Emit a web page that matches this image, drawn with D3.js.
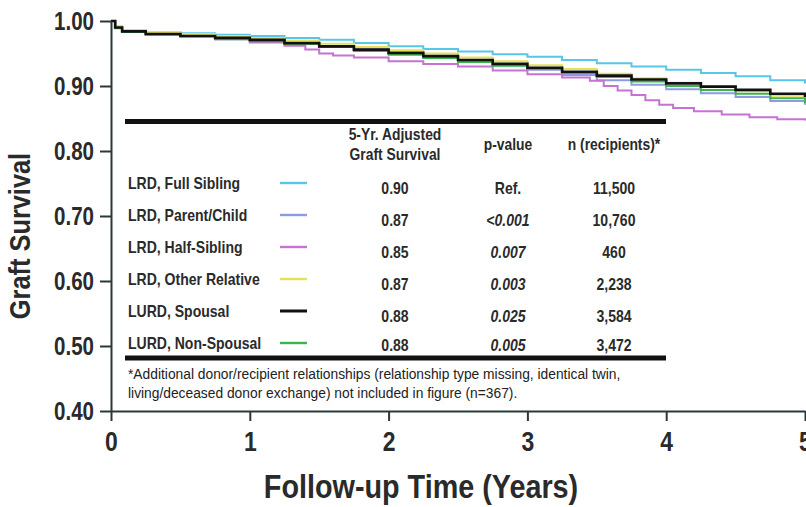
<!DOCTYPE html>
<html>
<head>
<meta charset="utf-8">
<script src="https://cdn.jsdelivr.net/npm/d3@7"></script>
<style>
  body { margin: 0; background: #fff; }
  svg { display: block; }
  text { font-family: 'Liberation Sans Narrow', 'Arial Narrow', 'Liberation Sans', sans-serif; fill: #2a2a2a; }
</style>
</head>
<body>
<svg id="chart" width="806" height="507"></svg>
<script>
// survival curves, [years, survival]
var fullSibling = [[0, 1], [0.03, 0.992], [0.08, 0.986], [0.25, 0.983], [0.5, 0.981], [0.75, 0.979], [1, 0.977],
  [1.25, 0.974], [1.5, 0.971], [1.75, 0.966], [2, 0.961], [2.25, 0.957], [2.5, 0.953], [2.75, 0.949], [3, 0.945],
  [3.25, 0.940], [3.5, 0.935], [3.75, 0.930], [4, 0.925], [4.25, 0.920], [4.5, 0.915], [4.75, 0.909], [5, 0.904]];
var parentChild = [[0, 1], [0.03, 0.990], [0.08, 0.985], [0.25, 0.981], [0.5, 0.977], [0.75, 0.974], [1, 0.970],
  [1.25, 0.966], [1.5, 0.961], [1.75, 0.956], [2, 0.950], [2.25, 0.945], [2.5, 0.939], [2.75, 0.932], [3, 0.925],
  [3.25, 0.917], [3.5, 0.909], [3.75, 0.902], [4, 0.895], [4.25, 0.889], [4.5, 0.883], [4.75, 0.877], [5, 0.871]];
var halfSibling = [[0, 1], [0.03, 0.990], [0.08, 0.985], [0.25, 0.981], [0.5, 0.977], [0.75, 0.972], [1, 0.967],
  [1.25, 0.962], [1.4, 0.956], [1.5, 0.950], [1.6, 0.947], [1.75, 0.944], [2, 0.938], [2.25, 0.934], [2.5, 0.930],
  [2.75, 0.924], [3, 0.918], [3.25, 0.913], [3.45, 0.908], [3.55, 0.900], [3.65, 0.893], [3.75, 0.886],
  [3.85, 0.878], [3.95, 0.871], [4.05, 0.866], [4.2, 0.861], [4.4, 0.856], [4.6, 0.852], [4.8, 0.849], [5, 0.847]];
var otherRelative = [[0, 1], [0.03, 0.992], [0.08, 0.986], [0.25, 0.983], [0.5, 0.980], [0.75, 0.977], [1, 0.974],
  [1.25, 0.970], [1.5, 0.965], [1.75, 0.960], [2, 0.955], [2.25, 0.950], [2.5, 0.944], [2.75, 0.938], [3, 0.932],
  [3.25, 0.926], [3.5, 0.919], [3.75, 0.912], [4, 0.905], [4.25, 0.899], [4.5, 0.892], [4.75, 0.885], [5, 0.878]];
var spousal = [[0, 1], [0.03, 0.990], [0.08, 0.984], [0.25, 0.980], [0.5, 0.977], [0.75, 0.974], [1, 0.971],
  [1.25, 0.966], [1.5, 0.961], [1.75, 0.956], [2, 0.951], [2.25, 0.946], [2.5, 0.940], [2.75, 0.934], [3, 0.928],
  [3.25, 0.922], [3.5, 0.916], [3.75, 0.910], [4, 0.904], [4.25, 0.899], [4.5, 0.894], [4.75, 0.888], [5, 0.883]];
var nonSpousal = [[0, 1], [0.03, 0.989], [0.08, 0.983], [0.25, 0.979], [0.5, 0.976], [0.75, 0.972], [1, 0.969],
  [1.25, 0.965], [1.5, 0.960], [1.75, 0.954], [2, 0.948], [2.25, 0.943], [2.5, 0.937], [2.75, 0.931], [3, 0.926],
  [3.25, 0.920], [3.5, 0.914], [3.75, 0.907], [4, 0.900], [4.25, 0.894], [4.5, 0.888], [4.75, 0.881], [5, 0.874]];

// table
var groups = ['LRD, Full Sibling', 'LRD, Parent/Child', 'LRD, Half-Sibling', 'LRD, Other Relative', 'LURD, Spousal', 'LURD, Non-Spousal'];
var adjSurvival = ['0.90', '0.87', '0.85', '0.87', '0.88', '0.88'];
var pValues = ['Ref.', '<0.001', '0.007', '0.003', '0.025', '0.005'];
var recipients = ['11,500', '10,760', '460', '2,238', '3,584', '3,472'];
var curves = [fullSibling, parentChild, halfSibling, otherRelative, spousal, nonSpousal];

var xTicks = [0, 1, 2, 3, 4, 5];
var yTicks = [0.4, 0.5, 0.6, 0.7, 0.8, 0.9, 1.0];
var footnote = ['*Additional donor/recipient relationships (relationship type missing, identical twin,',
  'living/deceased donor exchange) not included in figure (n=367).'];

var svg = d3.select('#chart');

// no narrow font installed, so squeeze the glyphs
var narrow = function(sel, k) {
  sel.each(function() {
    var w = this.getComputedTextLength();
    d3.select(this).attr('textLength', w * k).attr('lengthAdjust', 'spacingAndGlyphs');
  });
};

var x = d3.scaleLinear().domain([0, 5]).range([111, 805]);
var y = d3.scaleLinear().domain([0.4, 1]).range([411, 21]);
var color = d3.scaleOrdinal()
  .domain(groups)
  .range(['#57c6e8', '#8d9be2', '#c672d3', '#e6e15c', '#111111', '#3cb64b']);

// draw order: black on top
var order = [0, 1, 2, 3, 5, 4];

var line = d3.line()
  .x(function(d) { return x(d[0]); })
  .y(function(d) { return y(d[1]); })
  .curve(d3.curveStepAfter);

svg.append('g')
  .attr('class', 'curves')
  .selectAll('path')
  .data(order)
  .enter().append('path')
    .attr('d', function(i) { return line(curves[i]); })
    .style('fill', 'none')
    .style('stroke', function(i) { return color(groups[i]); })
    .style('stroke-width', function(i) { return i === 4 ? 2.6 : 2; });

// axes
var yAxis = svg.append('g')
  .attr('transform', 'translate(111,0)')
  .call(d3.axisLeft(y).tickValues(yTicks).tickFormat(d3.format('.2f')).tickSize(11).tickPadding(6).tickSizeOuter(0));

var xAxis = svg.append('g')
  .attr('transform', 'translate(0,411)')
  .call(d3.axisBottom(x).tickValues(xTicks).tickFormat(d3.format('d')).tickSize(10).tickPadding(11).tickSizeOuter(0));

[yAxis, xAxis].forEach(function(a) {
  a.select('.domain').style('stroke', '#2b3838').style('stroke-width', 2);
  a.selectAll('.tick line').style('stroke', '#2b3838').style('stroke-width', 2);
  a.selectAll('.tick text').style('fill', '#2a2a2a').style('font-weight', 'bold').style('font-family', null);
});
yAxis.selectAll('.tick text').style('font-size', '25px').call(narrow, 0.82);
xAxis.selectAll('.tick text').style('font-size', '27px').call(narrow, 0.85);

svg.append('text')
  .attr('transform', 'translate(30,236) rotate(-90)')
  .attr('text-anchor', 'middle')
  .style('font-size', '30px')
  .style('font-weight', 'bold')
  .text('Graft Survival')
  .call(narrow, 0.845);

svg.append('text')
  .attr('x', 421)
  .attr('y', 498)
  .attr('text-anchor', 'middle')
  .style('font-size', '34px')
  .style('font-weight', 'bold')
  .text('Follow-up Time (Years)')
  .call(narrow, 0.846);

// table
var table = svg.append('g').attr('class', 'table');

[121.5, 358].forEach(function(ly) {
  table.append('line')
    .attr('x1', 125).attr('x2', 666)
    .attr('y1', ly).attr('y2', ly)
    .style('stroke', '#111')
    .style('stroke-width', 5);
});

var colX = { label: 128, swatch: [280, 307], surv: 395, p: 508, n: 614 };

var head = table.append('g')
  .style('font-size', '16.5px')
  .style('font-weight', 'bold')
  .attr('text-anchor', 'middle');
head.append('text').attr('x', colX.surv).attr('y', 134).attr('dy', '0.35em').text('5-Yr. Adjusted');
head.append('text').attr('x', colX.surv).attr('y', 154).attr('dy', '0.35em').text('Graft Survival');
head.append('text').attr('x', colX.p).attr('y', 144).attr('dy', '0.35em').text('p-value');
head.append('text').attr('x', colX.n).attr('y', 144).attr('dy', '0.35em').text('n (recipients)*');
head.selectAll('text').call(narrow, 0.84);

var row = d3.scalePoint().domain(groups).range([183, 343]);

var rows = table.selectAll('g.row')
  .data(groups)
  .enter().append('g')
    .attr('class', 'row')
    .style('font-size', '16.5px')
    .style('font-weight', 'bold');

rows.append('text')
  .attr('x', colX.label)
  .attr('y', function(d) { return row(d); })
  .attr('dy', '0.35em')
  .text(function(d) { return d; });

rows.append('line')
  .attr('x1', colX.swatch[0]).attr('x2', colX.swatch[1])
  .attr('y1', function(d) { return row(d); })
  .attr('y2', function(d) { return row(d); })
  .style('stroke', function(d) { return color(d); })
  .style('stroke-width', function(d, i) { return i === 4 ? 3 : 2.4; });

var valY = function(d, i) { return row(d) + (i === groups.length - 1 ? 2 : 5); };

rows.append('text')
  .attr('x', colX.surv)
  .attr('y', valY)
  .attr('dy', '0.35em')
  .attr('text-anchor', 'middle')
  .text(function(d, i) { return adjSurvival[i]; });

rows.append('text')
  .attr('x', colX.p)
  .attr('y', valY)
  .attr('dy', '0.35em')
  .attr('text-anchor', 'middle')
  .style('font-style', function(d, i) { return pValues[i] === 'Ref.' ? 'normal' : 'italic'; })
  .text(function(d, i) { return pValues[i]; });

rows.append('text')
  .attr('x', colX.n)
  .attr('y', valY)
  .attr('dy', '0.35em')
  .attr('text-anchor', 'middle')
  .text(function(d, i) { return recipients[i]; });

rows.selectAll('text').call(narrow, 0.85);

table.selectAll('text.note')
  .data(footnote)
  .enter().append('text')
    .attr('class', 'note')
    .attr('x', colX.label)
    .attr('y', function(d, i) { return 374 + i * 19; })
    .attr('dy', '0.35em')
    .style('font-size', '13.8px')
    .style('fill', '#222')
    .text(function(d) { return d; });
</script>
</body>
</html>
